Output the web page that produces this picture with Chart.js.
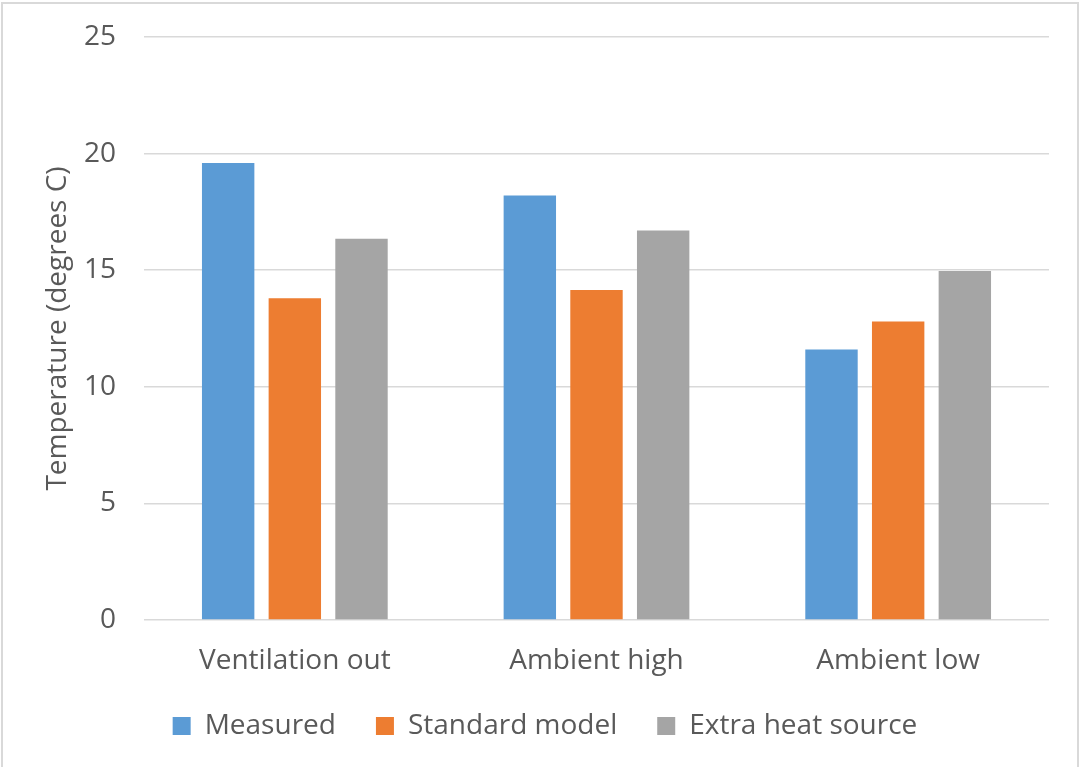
<!DOCTYPE html>
<html>
<head>
<meta charset="utf-8">
<title>Temperature comparison</title>
<script src="https://cdn.jsdelivr.net/npm/chart.js@4.4.1/dist/chart.umd.min.js"></script>
<style>
	body { margin: 0; background: #fff; }
	#wrap { position: relative; width: 1079px; height: 767px; }
	#mycanvas { display: block; }
	#frame { position: absolute; left: 1px; top: 2px; right: 0; bottom: 0; border: 2px solid #d9d9d9; border-bottom: none; pointer-events: none; }
</style>
</head>
<body>
<div id="wrap">
	<canvas id="mycanvas" width="1079" height="767"></canvas>
	<div id="frame"></div>
</div>
<script>
var categories = ["Ventilation out", "Ambient high", "Ambient low"];
var measured = [19.6, 18.2, 11.6];
var standardModel = [13.8, 14.15, 12.8];
var extraHeat = [16.35, 16.7, 14.97];
var yTicks = [0, 5, 10, 15, 20, 25];

var textColor = "#595959";
Chart.defaults.font.family = "'Open Sans', sans-serif";
Chart.defaults.font.size = 28;
Chart.defaults.color = textColor;

// the legend needs wide gaps between items (labels.padding), which also
// pushes the row down; move it back up once the layout is done
var legendLift = {
	id: 'legendLift',
	afterLayout: function(chart) {
		chart.legend.top -= 28;
		chart.legend.bottom -= 28;
	}
};

var chartdata = {
	labels: categories,
	datasets: [
		{
			label: "Measured",
			backgroundColor: "#5b9bd5",
			data: measured
		},
		{
			label: "Standard model",
			backgroundColor: "#ed7d31",
			data: standardModel
		},
		{
			label: "Extra heat source",
			backgroundColor: "#a5a5a5",
			data: extraHeat
		}
	]
};

var ctx = document.getElementById("mycanvas");

var BarGraph = new Chart(ctx, {
	type: 'bar',
	data: chartdata,
	plugins: [legendLift],
	options: {
		responsive: false,
		animation: false,
		datasets: {
			bar: {
				categoryPercentage: 0.663,
				barPercentage: 0.786
			}
		},
		layout: {
			padding: { left: 41, right: 30, top: 37, bottom: 0 }
		},
		plugins: {
			tooltip: { enabled: false },
			legend: {
				position: 'bottom',
				maxHeight: 67,
				labels: {
					boxWidth: 18,
					boxHeight: 18,
					padding: 40,
					color: textColor
				}
			}
		},
		scales: {
			x: {
				grid: { display: false, drawTicks: false },
				border: { display: false },
				ticks: { padding: 24, color: textColor },
				afterFit: function(scale) { scale.height = 80; }
			},
			y: {
				min: 0,
				max: 25,
				afterBuildTicks: function(scale) {
					scale.ticks = yTicks.map(function(v) { return { value: v }; });
				},
				// invisible tick marks keep the labels off the plot
				grid: { color: "#d9d9d9", lineWidth: 1.5, drawTicks: true, tickLength: 28, tickColor: "rgba(0,0,0,0)" },
				border: { display: false },
				ticks: { padding: 0, color: textColor },
				title: {
					display: true,
					text: "Temperature (degrees C)",
					color: textColor,
					padding: { top: 0, bottom: 0 }
				},
				afterFit: function(scale) { scale.width = 103; }
			}
		}
	}
});
</script>
</body>
</html>
